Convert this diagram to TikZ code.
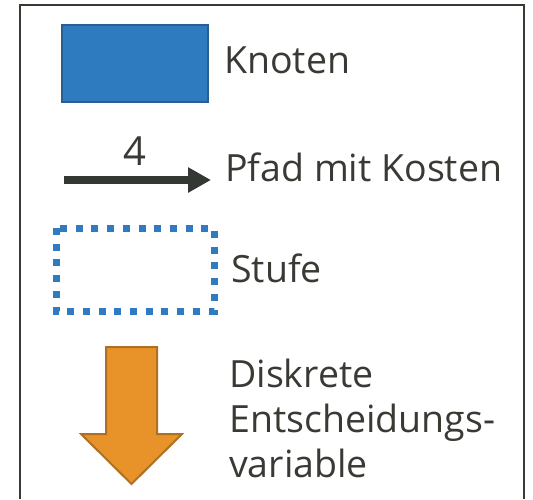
\documentclass[tikz,border=0pt]{standalone}
\usepackage{fontspec}
\setmainfont{Open Sans}
\usetikzlibrary{arrows.meta}
\definecolor{txt}{HTML}{3A3A35}
\definecolor{frame}{HTML}{3A3A35}
\definecolor{knotfill}{HTML}{2E7BBF}
\definecolor{knotdraw}{HTML}{2A5E92}
\definecolor{pathc}{HTML}{343832}
\definecolor{orfill}{HTML}{E8922A}
\definecolor{ordraw}{HTML}{B0701F}
\tikzset{
  lbl/.style={anchor=base west, inner sep=0pt, text=txt, font=\fontsize{37.5}{45}\selectfont},
  knotbox/.style={fill=knotfill, draw=knotdraw, line width=2pt},
  stufebox/.style={draw=knotfill, line width=7pt, dash pattern=on 7pt off 8.7pt},
  pathline/.style={draw=pathc, line width=8pt, -{Triangle[length=23pt,width=24pt]}},
  decarrow/.style={fill=orfill, draw=ordraw, line width=2pt, line join=miter}
}
\begin{document}
\begin{tikzpicture}[x=1pt,y=-1pt]
\useasboundingbox (0,0) rectangle (533,499);
\draw[frame, line width=2pt] (20,499) -- (20,4.5) -- (524,4.5) -- (524,499);
\node[knotbox, minimum width=146pt, minimum height=77pt, inner sep=0pt] (knot) at (135,63.5) {};
\node[lbl] (tknot) at (224,73) {Knoten};
\coordinate (ps) at (64,180);
\coordinate (pe) at (211,180);
\draw[pathline] (ps) -- (pe);
\node[anchor=base, inner sep=0pt, text=txt, font=\fontsize{40}{45}\selectfont] (cost) at (135,165) {4};
\node[lbl] (tpath) at (225,181) {Pfad mit Kosten};
\draw[stufebox] (56,228) rectangle (214,311);
\node[lbl] (tstufe) at (231,282) {Stufe};
\draw[decarrow] (106,347) -- (157,347) -- (157,434) -- (182,434) -- (131.5,484) -- (81,434) -- (106,434) -- cycle;
\node[lbl] (td1) at (229,387) {Diskrete};
\node[lbl] (td2) at (229,432) {Entscheidungs-};
\node[lbl] (td3) at (229,477) {variable};
\end{tikzpicture}
\end{document}
